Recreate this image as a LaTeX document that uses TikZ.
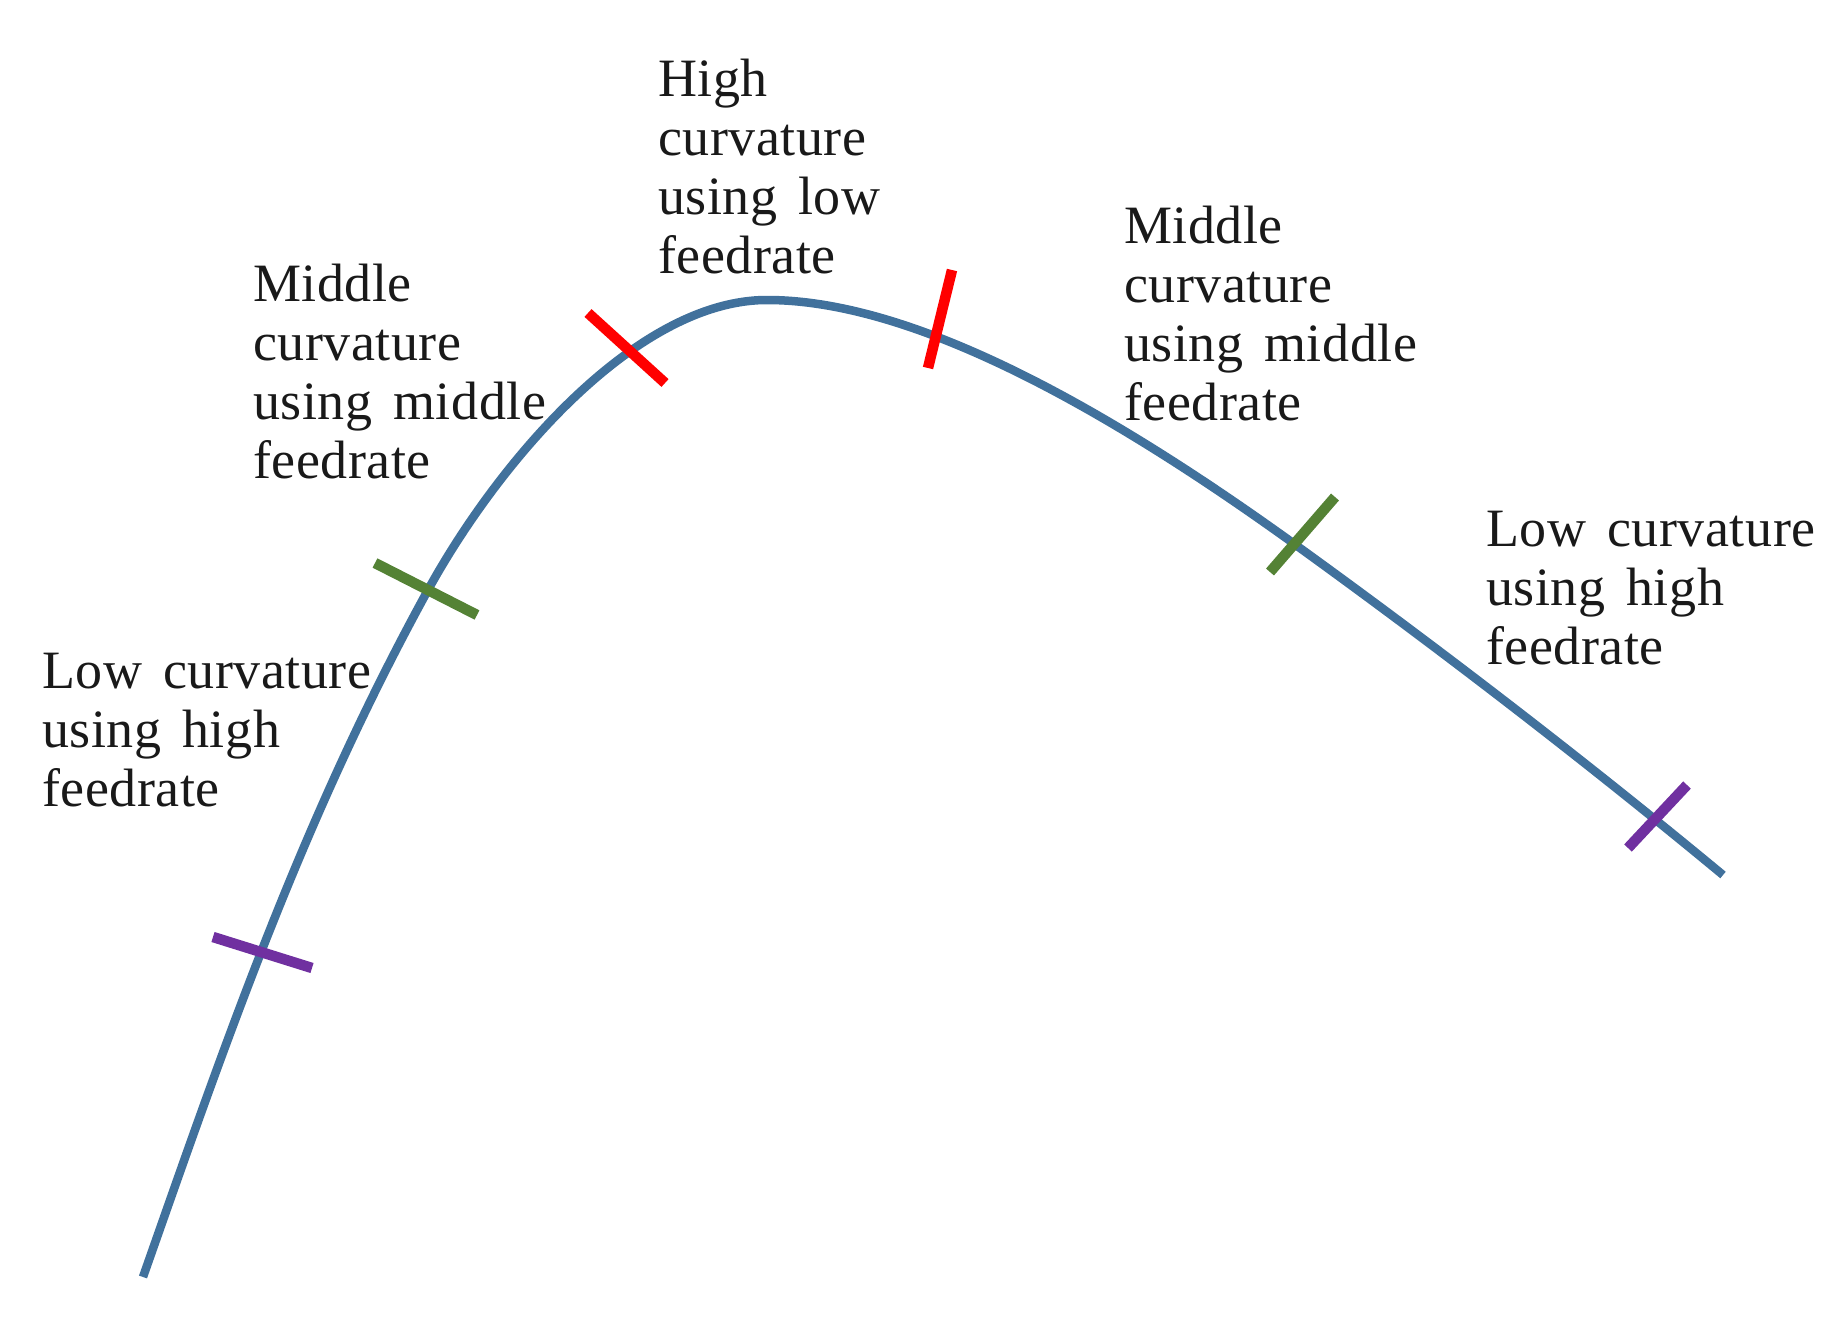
\documentclass[tikz,border=0pt]{standalone}
\usepackage{fontspec}
\setmainfont[WordSpace=1.5,LetterSpace=1]{Liberation Serif}
\definecolor{curveblue}{RGB}{65,113,156}
\definecolor{tickred}{RGB}{255,0,0}
\definecolor{tickgreen}{RGB}{84,130,53}
\definecolor{tickpurple}{RGB}{112,48,160}
\tikzset{
  curveline/.style={draw=curveblue, line width=8.5pt},
  tickmark/.style={line width=10.5pt},
  lbl/.style={anchor=north west, inner sep=0pt, align=left, text=black!90,
    font=\fontsize{54}{59}\selectfont},
}
\begin{document}
\begin{tikzpicture}[x=1pt,y=-1pt]
\useasboundingbox (0,0) rectangle (1842,1327);
% curve
\coordinate (c0) at (143,1277);
\coordinate (g1) at (428,590);
\coordinate (top) at (767,300);
\coordinate (g2) at (1293,543);
\coordinate (c9) at (1723,875);
\draw[curveline] (c0) .. controls (224,1047) and (301.5,820) .. (g1)
  .. controls (499.5,460) and (637,300) .. (top)
  .. controls (917,300) and (1113,413.4) .. (g2)
  .. controls (1433,644) and (1583,759) .. (c9);
% tick marks
\coordinate (pl1) at (213,937); \coordinate (pl2) at (312,968);
\coordinate (gl1) at (375,563); \coordinate (gl2) at (477,615);
\coordinate (rl1) at (588,313); \coordinate (rl2) at (665,383);
\coordinate (rr1) at (952,270); \coordinate (rr2) at (928,368);
\coordinate (gr1) at (1335,497); \coordinate (gr2) at (1270,572);
\coordinate (pr1) at (1687,785); \coordinate (pr2) at (1628,848);
\draw[tickmark, tickpurple] (pl1) -- (pl2);
\draw[tickmark, tickgreen] (gl1) -- (gl2);
\draw[tickmark, tickred] (rl1) -- (rl2);
\draw[tickmark, tickred] (rr1) -- (rr2);
\draw[tickmark, tickgreen] (gr1) -- (gr2);
\draw[tickmark, tickpurple] (pr1) -- (pr2);
% labels
\node[lbl] (lowL) at (42,653) {Low curvature\\using high\\feedrate};
\node[lbl] (midL) at (253,264) {Middle\\curvature\\using middle\\feedrate};
\node[lbl] (high) at (658,59) {High\\curvature\\using low\\feedrate};
\node[lbl] (midR) at (1124,206) {Middle\\curvature\\using middle\\feedrate};
\node[lbl] (lowR) at (1486,511) {Low curvature\\using high\\feedrate};
\end{tikzpicture}
\end{document}
